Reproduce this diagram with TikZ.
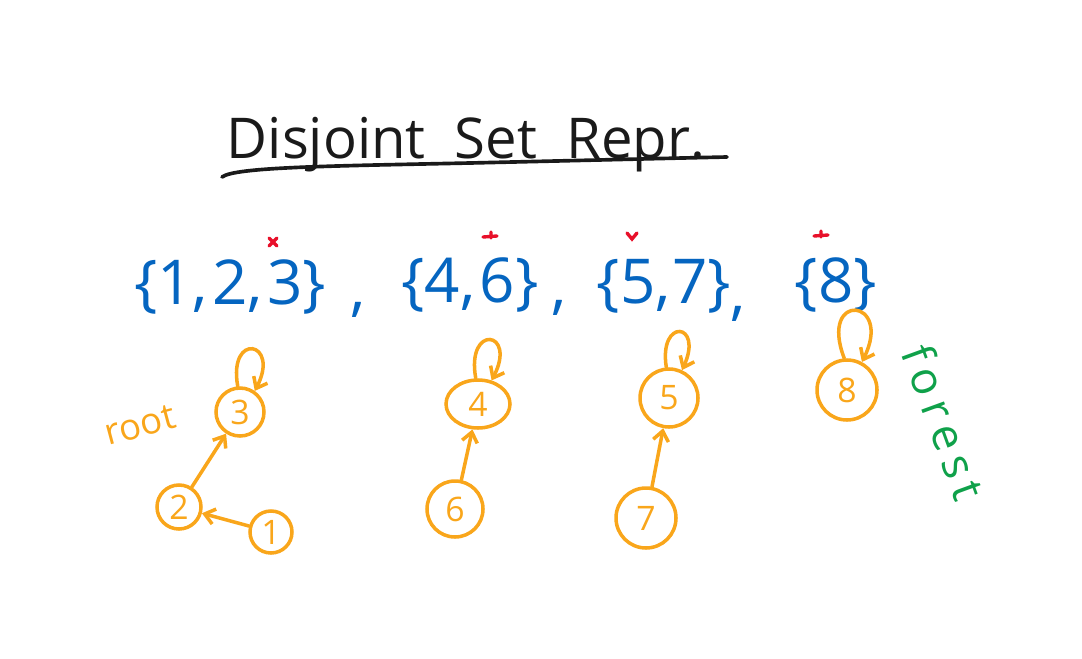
\documentclass[tikz,border=0pt]{standalone}
\usepackage{fontspec}
\setmainfont{Open Sans}
\usetikzlibrary{arrows.meta,shapes.geometric}
\definecolor{ink}{HTML}{1A1A1A}
\definecolor{setblue}{HTML}{0565C0}
\definecolor{tree}{HTML}{F9A61B}
\definecolor{mark}{HTML}{E8102A}
\definecolor{fgreen}{HTML}{0FA14A}
\tikzset{
  settext/.style={text=setblue, font=\fontsize{44}{50}\selectfont, inner sep=0pt},
  elem/.style={draw=tree, line width=2.5pt, circle, text=tree, inner sep=0pt,
     font=\fontsize{24}{28}\selectfont},
  parent/.style={draw=tree, line width=2.5pt, -{Straight Barb[length=7pt,width=11pt]}, line cap=round},
  rootmark/.style={draw=mark, line width=2.4pt, line cap=round},
}
\begin{document}
\begin{tikzpicture}[x=0.025cm,y=-0.025cm]
\useasboundingbox (0,0) rectangle (1082,658);
% title
\node[text=ink, font=\fontsize{40}{46}\selectfont, inner sep=0pt] (title) at (466,145) {Disjoint\ \ Set\ \ Repr.};
\coordinate (ul1) at (222,177);
\coordinate (ul2) at (727,157);
\draw[ink, line width=2.6pt, line cap=round] (ul1) .. controls (235,167) and (330,166) .. (470,163) .. controls (600,160) and (680,158) .. (ul2);
% sets
\node[settext] (s1) at (230,287) {\{1,\hspace{3pt}2,\hspace{3pt}3\}};
\node[settext] (c1) at (358,310) {,};
\node[settext] (s2) at (470,285) {\{4,\hspace{3pt}6\}};
\node[settext] (c2) at (559,308) {,};
\node[settext] (s3) at (664,286) {\{5,\hspace{1pt}7\}};
\node[settext] (c3) at (738,314) {,};
\node[settext] (s4) at (836,285) {\{8\}};
% root marks
\coordinate (m3) at (273,242);
\coordinate (m6) at (490,236);
\coordinate (m5) at (632,236);
\coordinate (m8) at (821,235);
\draw[rootmark] ([shift={(-4,-4)}]m3) -- ([shift={(4,4)}]m3) ([shift={(4,-4)}]m3) -- ([shift={(-4,4)}]m3);
\draw[rootmark] ([shift={(-7,1)}]m6) -- ([shift={(7,0)}]m6) ([shift={(1,-4)}]m6) -- ([shift={(1,2)}]m6);
\draw[rootmark] ([shift={(-5,-3)}]m5) -- ([shift={(0,3)}]m5) -- ([shift={(5,-3)}]m5);
\draw[rootmark] ([shift={(-7,1)}]m8) -- ([shift={(7,0)}]m8) ([shift={(0,-4)}]m8) -- ([shift={(0,2)}]m8);
% tree 1
\node[elem, minimum size=48*0.025cm] (n3) at (240,412) {3};
\node[elem, minimum size=44*0.025cm] (n2) at (179,507) {2};
\node[elem, minimum size=42*0.025cm] (n1) at (271,532) {1};
\draw[parent] (n3.95) .. controls +(-10,-55) and +(26,-50) .. (n3.55);
\draw[parent] (n2) -- (n3);
\draw[parent] (n1) -- (n2);
\node[text=tree, font=\fontsize{26}{30}\selectfont, rotate=15, inner sep=0pt] (rootlbl) at (140,425) {root};
% tree 2
\node[elem, ellipse, minimum width=64*0.025cm, minimum height=48*0.025cm] (n4) at (478,404) {4};
\node[elem, minimum size=56*0.025cm] (n6) at (455,509) {6};
\draw[parent] (n4.95) .. controls +(-10,-55) and +(26,-50) .. (n4.60);
\draw[parent] (n6) -- (n4);
% tree 3
\node[elem, minimum size=58*0.025cm] (n5) at (669,398) {5};
\node[elem, minimum size=60*0.025cm] (n7) at (646,518) {7};
\draw[parent] (n5.95) .. controls +(-8,-50) and +(22,-48) .. (n5.65);
\draw[parent] (n7) -- (n5);
% tree 4
\node[elem, minimum size=60*0.025cm] (n8) at (847,390) {8};
\draw[parent] (n8.95) .. controls +(-26,-68) and +(32,-64) .. (n8.62);
% forest
\node[text=fgreen, font=\fontsize{32}{36}\selectfont, rotate=-70, inner sep=0pt] (forest) at (944,422) {f\,o\,r\,e\,s\,t};
\end{tikzpicture}
\end{document}
